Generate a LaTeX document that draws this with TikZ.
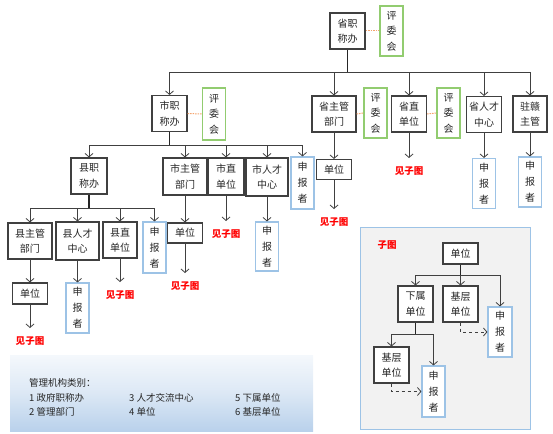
\documentclass[tikz,border=0pt]{standalone}
\usepackage{fontspec}
\setmainfont{Noto Sans CJK SC}
\usetikzlibrary{arrows.meta}
\definecolor{ink}{HTML}{404040}
\definecolor{appb}{HTML}{9DC3E6}
\definecolor{revg}{HTML}{92CC70}
\definecolor{linkc}{HTML}{F4A46E}
\definecolor{legb}{HTML}{B9D1EB}

\begin{document}
\begin{tikzpicture}[x=1pt, y=-1pt, font=\fontsize{10}{15.5}\selectfont,
  box/.style={draw=ink, line width=1.1pt, fill=white, text=black!85, align=center, inner sep=0pt, minimum width=35pt, minimum height=36pt},
  appl/.style={box, draw=appb, minimum width=23pt, minimum height=50pt, font=\fontsize{10}{16}\selectfont},
  revw/.style={box, draw=revg, minimum width=23pt, minimum height=50pt, font=\fontsize{10}{15.5}\selectfont},
  ubox/.style={box, minimum height=20pt},
  see/.style={text=red, font=\fontsize{9.5}{11}\selectfont\bfseries, inner sep=0pt, text height=8pt, text depth=1pt, outer ysep=8.5pt},
  flow/.style={draw=ink, line width=0.8pt, -{Straight Barb[length=3.5pt, width=8pt]}},
  trunk/.style={draw=black!85, line width=1.4pt},
  tie/.style={draw=linkc, line width=1pt, dash pattern=on 1.5pt off 1pt},
  dflow/.style={flow, dashed},
  lgd/.style={anchor=west, inner sep=0pt, font=\fontsize{9.5}{11}\selectfont, text=black!85}]
\useasboundingbox (0,0) rectangle (553,433);

% ---- province level
\node[box] (prov) at (347.5,31) {省职\\称办};
\node[revw] (provrev) at (391.5,31) {评\\委\\会};
\draw[tie] (prov.east) -- (provrev.west);

% ---- second row (y 96..132)
\node[box] (city) at (169.5,113.5) {市职\\称办};
\node[revw, minimum height=52pt] (cityrev) at (214,114) {评\\委\\会};
\node[box, minimum width=44pt] (pdept) at (334,114) {省主管\\部门};
\node[revw] (pdeptrev) at (375.5,113) {评\\委\\会};
\node[box] (pdir) at (409,114) {省直\\单位};
\node[revw] (pdirrev) at (448.5,113) {评\\委\\会};
\node[box] (ptal) at (484,114.5) {省人才\\中心};
\node[box, minimum width=34pt] (pzg) at (530,114) {驻赣\\主管};
\draw[tie] (city.east) -- (cityrev.west);
\draw[tie] (pdept.east) -- (pdeptrev.west);
\draw[tie] (pdir.east) -- (pdirrev.west);

\node[ubox] (pdunit) at (334,169.5) {单位};
\node[see] (see1) at (334,222) {见子图};
\node[see] (see2) at (409,171) {见子图};
\node[appl] (ptalapp) at (484,183.5) {申\\报\\者};
\node[appl] (pzgapp) at (530,182) {申\\报\\者};

% ---- city row (y 158..195)
\node[box, minimum width=36pt] (county) at (89,176) {县职\\称办};
\node[box, minimum width=44pt, minimum height=37pt] (cdept) at (185,176.5) {市主管\\部门};
\node[box, minimum width=36pt, minimum height=37pt] (cdir) at (226,176.5) {市直\\单位};
\node[box, minimum width=42pt, minimum height=38pt] (ctal) at (267,177) {市人才\\中心};
\node[appl, minimum height=52pt] (capp) at (302.5,183) {申\\报\\者};

\node[ubox] (cdunit) at (185,233) {单位};
\node[see] (see3) at (185,286) {见子图};
\node[see] (see4) at (226,234) {见子图};
\node[appl, minimum height=49pt] (ctalapp) at (267,246.5) {申\\报\\者};

% ---- county row (y 222..259)
\node[box, minimum width=44pt] (xdept) at (30,241) {县主管\\部门};
\node[box, minimum width=43pt, minimum height=38pt] (xtal) at (77.5,241) {县人才\\中心};
\node[box, minimum width=34pt] (xdir) at (120,240) {县直\\单位};
\node[appl, minimum height=51pt] (xapp) at (154.5,247.5) {申\\报\\者};
\node[ubox, minimum height=21pt] (xdunit) at (30,293.5) {单位};
\node[appl] (xtalapp) at (77.5,308) {申\\报\\者};
\node[see] (see5) at (30,341) {见子图};
\node[see] (see6) at (120,295) {见子图};

% ---- buses
\coordinate (bus0) at (0,72.5);
\coordinate (bus1) at (0,145);
\coordinate (bus2) at (0,208);
\draw[trunk] (prov.south) -- (prov.south |- bus0);
\foreach \n in {city,pdept,pdir,ptal,pzg}
  \draw[flow] (prov.south |- bus0) -| (\n.north);
\draw[trunk] (city.south) -- (city.south |- bus1);
\foreach \n in {county,cdept,cdir,ctal,capp}
  \draw[flow] (city.south |- bus1) -| (\n.north);
\draw[trunk] (county.south) -- (county.south |- bus2);
\foreach \n in {xdept,xtal,xdir,xapp}
  \draw[flow] (county.south |- bus2) -| (\n.north);

\draw[flow] (pdept.south) -- (pdunit.north);
\draw[flow] (pdunit.south) -- (see1.north);
\draw[flow] (pdir.south) -- (see2.north);
\draw[flow] (ptal.south) -- (ptalapp.north);
\draw[flow] (pzg.south) -- (pzgapp.north);
\draw[flow] (cdept.south) -- (cdunit.north);
\draw[flow] (cdunit.south) -- (see3.north);
\draw[flow] (cdir.south) -- (see4.north);
\draw[flow] (ctal.south) -- (ctalapp.north);
\draw[flow] (xdept.south) -- (xdunit.north);
\draw[flow] (xdunit.south) -- (see5.north);
\draw[flow] (xtal.south) -- (xtalapp.north);
\draw[flow] (xdir.south) -- (see6.north);

% ---- sub figure panel (x 360..530)
\draw[draw=appb, fill=black!5, line width=1pt] (360,227) rectangle (530,429);
\node[see] (subt) at (387,245) {子图};
\node[ubox, minimum height=21pt] (sunit) at (460.5,253.5) {单位};
\node[box] (ssub) at (415.5,304) {下属\\单位};
\node[box] (sbase) at (460.5,304) {基层\\单位};
\node[appl, minimum width=24pt] (sapp) at (500,332) {申\\报\\者};
\node[box] (sbase2) at (391.5,365) {基层\\单位};
\node[appl, minimum height=51pt] (sapp2) at (433.5,391.5) {申\\报\\者};
\coordinate (bus3) at (0,275);
\coordinate (bus4) at (0,334);
\draw[trunk] (sunit.south) -- (sunit.south |- bus3);
\foreach \n in {ssub,sbase,sapp}
  \draw[flow] (sunit.south |- bus3) -| (\n.north);
\draw[trunk] (ssub.south) -- (ssub.south |- bus4);
\foreach \n in {sbase2,sapp2}
  \draw[flow] (ssub.south |- bus4) -| (\n.north);
\draw[dflow] (sbase.south) |- (sapp.west);
\draw[dflow] (sbase2.south) |- (sapp2.west);

% ---- legend
\shade[top color=legb!15, bottom color=legb, middle color=legb!50] (10,355) rectangle (313,431);
\node[lgd] (lgtitle) at (29,383) {管理机构类别：};
\node[lgd] (lg1) at (29,398) {1 政府职称办};
\node[lgd] (lg2) at (29,412) {2 管理部门};
\node[lgd] (lg3) at (129,398) {3 人才交流中心};
\node[lgd] (lg4) at (129,412) {4 单位};
\node[lgd] (lg5) at (235,398) {5 下属单位};
\node[lgd] (lg6) at (235,412) {6 基层单位};
\end{tikzpicture}
\end{document}
